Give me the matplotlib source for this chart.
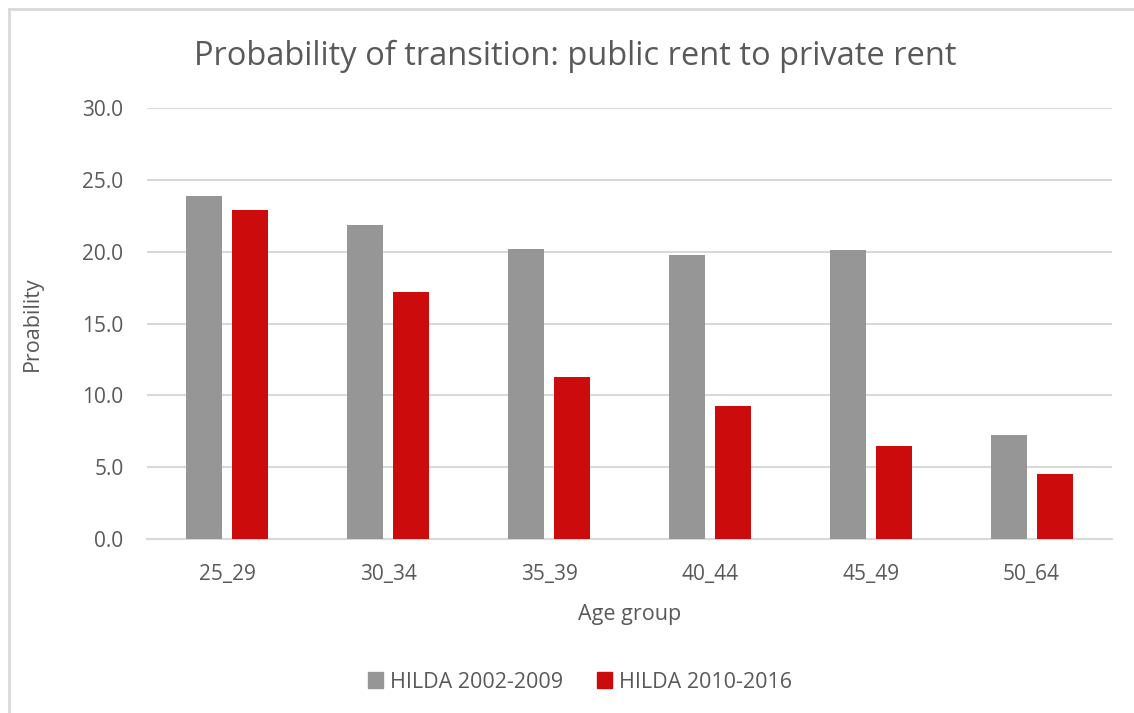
import matplotlib
matplotlib.use("Agg")
import matplotlib.pyplot as plt
import numpy as np
from matplotlib.lines import Line2D
from matplotlib.patches import Patch

categories = ["25_29", "30_34", "35_39", "40_44", "45_49", "50_64"]
hilda_2002_2009 = [23.9, 21.85, 20.2, 19.75, 20.1, 7.25]
hilda_2010_2016 = [22.9, 17.2, 11.3, 9.25, 6.5, 4.5]
series_names = ["HILDA 2002-2009", "HILDA 2010-2016"]
yticks = [0, 5, 10, 15, 20, 25, 30]

GRAY = "#969696"
RED = "#cc0c0c"
TXT = "#595959"
GRID = "#d9d9d9"
FONT = "Open Sans"

plt.rcParams["font.family"] = [FONT, "DejaVu Sans"]

fig = plt.figure(figsize=(11.34, 7.13), dpi=100)
ax = fig.add_axes([147/1134, 1-539/713, (1112-147)/1134, (539-108)/713])

x = np.arange(len(categories))
w = 0.224
off = 0.143
ax.bar(x - off, hilda_2002_2009, width=w, color=GRAY, zorder=3, label=series_names[0])
ax.bar(x + off, hilda_2010_2016, width=w, color=RED, zorder=3, label=series_names[1])

ax.set_xlim(-0.5, len(categories) - 0.5)
ax.set_ylim(0, 30)
ax.set_yticks(yticks)
ax.set_yticklabels([f"{v:.1f}" for v in yticks])
ax.set_xticks(x)
ax.set_xticklabels(categories)
ax.yaxis.grid(True, color=GRID, linewidth=1.5, zorder=0)
ax.set_axisbelow(True)
for s in ["top", "right", "left"]:
    ax.spines[s].set_visible(False)
ax.spines["bottom"].set_color(GRID)
ax.spines["bottom"].set_linewidth(1.5)
ax.tick_params(axis="both", length=0, labelsize=15, colors=TXT)
ax.tick_params(axis="y", pad=17)
ax.tick_params(axis="x", pad=18)

ax.set_xlabel("Age group", fontsize=15.5, color=TXT, labelpad=14)
ax.set_ylabel("Proability", fontsize=15.5, color=TXT, labelpad=28)

fig.text(575/1134, 1-56/713, "Probability of transition: public rent to private rent",
         ha="center", va="center", fontsize=23.5, color=TXT)

handles = [Patch(color=GRAY), Patch(color=RED)]
fig.legend(handles, series_names, loc="center", bbox_to_anchor=(580/1134, 1-682/713),
           ncol=2, frameon=False, fontsize=15.5, labelcolor=TXT, handlelength=0.7,
           handleheight=0.7, handletextpad=0.3, columnspacing=1.6)

# outer chart frame (partially visible)
fig.add_artist(Line2D([8.5/1134, 8.5/1134], [0, 1-9/713], color=GRID, linewidth=2, transform=fig.transFigure))
fig.add_artist(Line2D([8.5/1134, 1], [1-9/713, 1-9/713], color=GRID, linewidth=2, transform=fig.transFigure))

fig.savefig("out.png", dpi=100, facecolor="white")
